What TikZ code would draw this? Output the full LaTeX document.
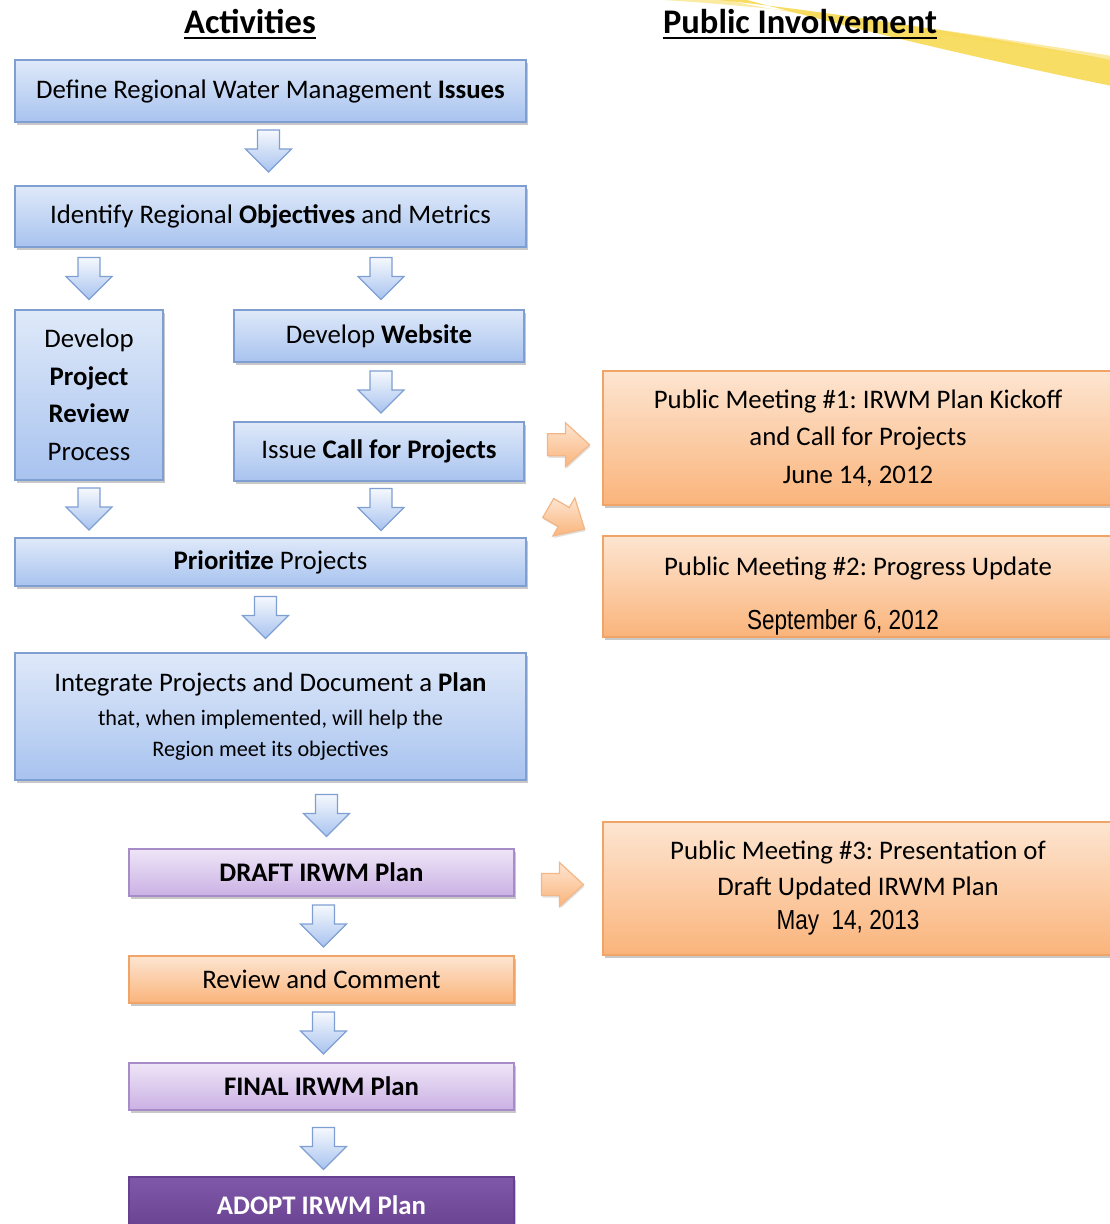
\documentclass[tikz,border=0pt]{standalone}
\usepackage{fontspec}
\setmainfont{Carlito}
\newfontfamily\narrowfont[FakeStretch=0.82]{Liberation Sans}
\usetikzlibrary{calc,shadows}
\definecolor{bluetop}{HTML}{DFE9F9}
\definecolor{bluebot}{HTML}{A8C3EF}
\definecolor{blueedge}{HTML}{7F9FD3}
\definecolor{orgtop}{HTML}{FDE5D1}
\definecolor{orgbot}{HTML}{FAB47B}
\definecolor{orgedge}{HTML}{F0A468}
\definecolor{purtop}{HTML}{EFE5F7}
\definecolor{purbot}{HTML}{CAB1E4}
\definecolor{puredge}{HTML}{A78CC8}
\definecolor{dpurtop}{HTML}{8058AA}
\definecolor{dpurbot}{HTML}{67418F}
\definecolor{swoosh}{HTML}{F8DA55}
\tikzset{
  box/.style={draw, line width=1.2pt, align=center, inner sep=0pt,
    drop shadow={shadow xshift=1.5pt, shadow yshift=-3pt, opacity=0.3, fill=black!70},
    font=\fontsize{26.8}{37.5}\selectfont},
  bluebox/.style={box, draw=blueedge, top color=bluetop, bottom color=bluebot},
  orgbox/.style={box, draw=orgedge, top color=orgtop, bottom color=orgbot},
  purbox/.style={box, draw=puredge, top color=purtop, bottom color=purbot},
  dpurbox/.style={box, draw=dpurbot, top color=dpurtop, bottom color=dpurbot, text=white},
  arrowblue/.style={draw=blueedge, line width=1.2pt, top color=white!70!bluetop, bottom color=bluebot},
  arroworg/.style={draw=orgedge!80, line width=1.2pt, top color=orgtop, bottom color=orgbot,
    drop shadow={shadow xshift=1pt, shadow yshift=-2pt, opacity=0.2, fill=black!60}},
  pics/downarrow/.style={code={\path[arrowblue] (-11,-21) -- (11,-21) -- (11,-2) -- (23,-2) -- (0,21) -- (-23,-2) -- (-11,-2) -- cycle;}},
  pics/rightarrow/.style={code={\path[arroworg] (-21,-11) -- (-3,-11) -- (-3,-22) -- (21,0) -- (-3,22) -- (-3,11) -- (-21,11) -- cycle;}},
  title/.style={font=\fontsize{34.5}{36}\selectfont\bfseries, inner sep=0pt, anchor=base}
}
\begin{document}
\frenchspacing
\begin{tikzpicture}[x=1pt,y=-1pt]
\useasboundingbox[fill=white] (0,0) rectangle (1109,1224);
% swoosh
\fill[swoosh, opacity=0.55] (625,-2) .. controls (760,4) and (900,22) .. (1112,56) -- (1112,60) .. controls (900,28) and (760,10) .. (720,-2) -- cycle;
\fill[swoosh, opacity=0.9] (700,-2) .. controls (820,10) and (960,32) .. (1112,60) -- (1112,86) .. controls (960,55) and (820,20) .. (740,-2) -- cycle;
% titles
\node[title] (tact) at (250,33) {Activities};
\node[title] (tpub) at (800,33) {Public Involvement};
\draw[line width=2.6pt] ([yshift=-5pt]tact.base west) -- ([yshift=-5pt]tact.base east);
\draw[line width=2.6pt] ([yshift=-5pt]tpub.base west) -- ([yshift=-5pt]tpub.base east);
% activity boxes
\node[bluebox, minimum width=511pt, minimum height=62pt] (b1) at (270.5,91) {Define Regional Water Management \textbf{Issues}};
\node[bluebox, minimum width=511pt, minimum height=61pt] (b2) at (270.5,216.5) {Identify Regional \textbf{Objectives} and Metrics};
\node[bluebox, minimum width=148pt, minimum height=170pt] (b3) at (89,395) {Develop\\\textbf{Project}\\\textbf{Review}\\Process};
\node[bluebox, minimum width=290pt, minimum height=52pt] (b4) at (379,336) {Develop \textbf{Website}};
\node[bluebox, minimum width=290pt, minimum height=59pt] (b5) at (379,451.5) {Issue \textbf{Call for Projects}};
\node[bluebox, minimum width=511pt, minimum height=48pt] (b6) at (270.5,562) {\textbf{Prioritize} Projects};
\node[bluebox, minimum width=511pt, minimum height=127pt] (b7) at (270.5,716.5) {Integrate Projects and Document a \textbf{Plan}\\[-4pt]{\fontsize{22.2}{31}\selectfont that, when implemented, will help the}\\[-6pt]{\fontsize{22.2}{31}\selectfont Region meet its objectives}};
\node[purbox, minimum width=385pt, minimum height=47pt] (b8) at (321.5,872.5) {\textbf{DRAFT IRWM Plan}};
\node[orgbox, minimum width=385pt, minimum height=47pt] (b9) at (321.5,979.5) {Review and Comment};
\node[purbox, minimum width=385pt, minimum height=47pt] (b10) at (321.5,1086.5) {\textbf{FINAL IRWM Plan}};
\node[dpurbox, minimum width=385pt, minimum height=56pt] (b11) at (321.5,1205) {\textbf{ADOPT IRWM Plan}};
% public involvement boxes
\node[orgbox, minimum width=510pt, minimum height=134pt] (p1) at (858,438) {Public Meeting \#1: IRWM Plan Kickoff\\and Call for Projects\\June 14, 2012};
\node[orgbox, minimum width=510pt, minimum height=101pt] (p2) at (858,586.5) {\rule{0pt}{38pt}Public Meeting \#2: Progress Update\\[17pt]\hspace*{-30pt}{\narrowfont\fontsize{27.5}{30}\selectfont September 6, 2012}};
\node[orgbox, minimum width=510pt, minimum height=133pt] (p3) at (858,888.5) {Public Meeting \#3: Presentation of\\[-2pt]Draft Updated IRWM Plan\\[-3pt]\hspace*{-20pt}{\narrowfont\fontsize{27.5}{30}\selectfont May\ \ 14, 2013}};
% down arrows
\pic at ($(b1.south)!0.5!(b2.north)+(-2,-3)$) {downarrow};
\pic at ($(b2.south -| b3.north)!0.5!(b3.north)$) {downarrow};
\pic at ($(b2.south -| b4.north)!0.5!(b4.north)+(2,0)$) {downarrow};
\pic at ($(b4.south)!0.5!(b5.north)+(2,0)$) {downarrow};
\pic at ($(b3.south)!0.5!(b6.north -| b3.south)$) {downarrow};
\pic at ($(b5.south)!0.5!(b6.north -| b5.south)+(2,0)$) {downarrow};
\pic at ($(b6.south)!0.5!(b7.north)+(-5,-2)$) {downarrow};
\pic at ($(b7.south -| b8.north)!0.5!(b8.north)+(5,1)$) {downarrow};
\pic at ($(b8.south)!0.5!(b9.north)+(2,0)$) {downarrow};
\pic at ($(b9.south)!0.5!(b10.north)+(2,0)$) {downarrow};
\pic at ($(b10.south)!0.5!(b11.north)+(2,5)$) {downarrow};
% right arrows
\pic at ($(b5.east)!0.5!(p1.west)+(5,0)$) {rightarrow};
\pic[rotate=-30] at ($(p1.south west)!0.5!(p2.north west)+(-36,-2)$) {rightarrow};
\pic at ($(b8.east)!0.5!(p3.west)+(4,4)$) {rightarrow};
\end{tikzpicture}
\end{document}
